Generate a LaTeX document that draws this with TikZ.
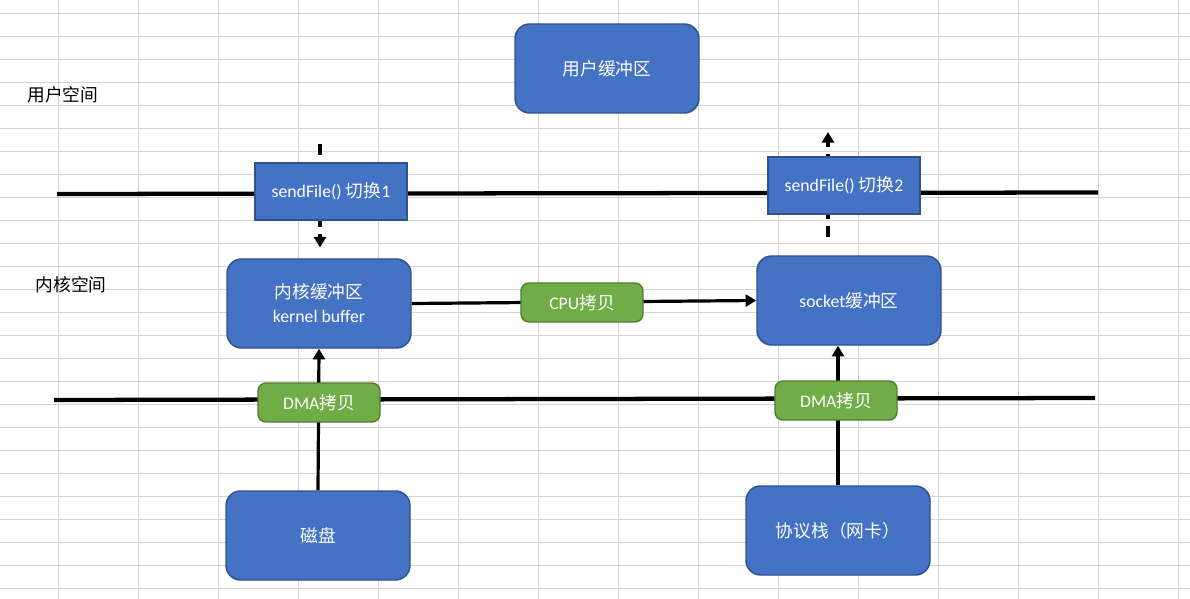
\documentclass[tikz,border=0pt]{standalone}
\usepackage{fontspec}
\setmainfont{Carlito}
\newfontfamily\cjk{Noto Sans CJK SC}
\usetikzlibrary{arrows.meta}
\definecolor{boxblue}{HTML}{4472C4}
\definecolor{boxblueborder}{HTML}{2F528F}
\definecolor{boxgreen}{HTML}{70AD47}
\definecolor{boxgreenborder}{HTML}{507E32}
\definecolor{gridgray}{HTML}{D4D4D4}
\pgfdeclarelayer{bg}
\pgfsetlayers{bg,main}
\begin{document}
\begin{tikzpicture}[x=0.75pt,y=-0.75pt,
  txt/.style={font=\fontsize{13.3}{18}\selectfont},
  bluebox/.style={txt, draw=boxblueborder, fill=boxblue, line width=1.1pt, rounded corners=11pt,
    minimum width=138pt, minimum height=66.75pt, text=white, align=center, inner sep=0pt},
  switchbox/.style={txt, draw=boxblueborder, fill=boxblue, line width=1.1pt,
    minimum width=114pt, minimum height=42.75pt, text=white, align=center, inner sep=0pt},
  greenbox/.style={txt, draw=boxgreenborder, fill=boxgreen, line width=1.1pt, rounded corners=6pt,
    minimum width=91.5pt, minimum height=29.25pt, text=white, align=center, inner sep=0pt},
  sideLabel/.style={txt, text=black, inner sep=0pt},
  boundary/.style={line width=3.2pt, black},
  solidarrow/.style={line width=2.4pt, black, -{Triangle[length=8pt,width=9pt]}},
  dasharrow/.style={line width=2.4pt, black, dash pattern=on 8pt off 5.5pt, -{Triangle[length=8pt,width=9pt]}},
  gridline/.style={gridgray, line width=0.8pt}
]
\useasboundingbox (0,0) rectangle (1190,599);

% nodes
\node[bluebox] (ubuf) at (607,68.5) {\cjk 用户缓冲区};
\node[sideLabel] (ulabel) at (63,95) {\cjk 用户空间};
\node[sideLabel] (klabel) at (71,285) {\cjk 内核空间};
\node[switchbox] (sw1) at (331,191.5) {sendFile() {\cjk 切换}1};
\node[switchbox] (sw2) at (844,185.5) {sendFile() {\cjk 切换}2};
\node[bluebox] (kbuf) at (319,303.5) {{\cjk 内核缓冲区}\\kernel buffer};
\node[bluebox] (sbuf) at (849,300.5) {socket{\cjk 缓冲区}};
\node[greenbox] (cpu) at (582,302.5) {CPU{\cjk 拷贝}};
\node[greenbox] (dma1) at (319,402.5) {DMA{\cjk 拷贝}};
\node[greenbox] (dma2) at (836,400.5) {DMA{\cjk 拷贝}};
\node[bluebox] (disk) at (318,535.5) {\cjk 磁盘};
\node[bluebox] (nic) at (838,530.5) {\cjk 协议栈（网卡）};

\coordinate (topL) at (57,194);
\coordinate (topR) at (1098,192.5);
\coordinate (botL) at (54,400);
\coordinate (botR) at (1095,398);
\coordinate (d1s) at (320,144);
\coordinate (d2e) at (828,132);

\begin{pgfonlayer}{bg}
  \fill[white] (0,0) rectangle (1190,599);
  \foreach \i in {0,...,14} \draw[gridline] (58.3+80*\i,0) -- (58.3+80*\i,599);
  \foreach \j in {0,...,25} \draw[gridline] (0,13.3+23*\j) -- (1190,13.3+23*\j);
  \draw[boundary] (topL) -- (topR);
  \draw[boundary] (botL) -- (botR);
  \draw[dasharrow, shorten >=8pt] (d1s) -- (d1s |- kbuf.north);
  \draw[dasharrow, shorten <=14pt] (d2e |- sbuf.north) -- (d2e);
  \draw[solidarrow] (kbuf.east) -- (sbuf.west);
  \draw[solidarrow] (disk.north) -- (kbuf.south);
  \draw[solidarrow] (nic.north) -- (nic.north |- sbuf.south);
\end{pgfonlayer}
\end{tikzpicture}
\end{document}
